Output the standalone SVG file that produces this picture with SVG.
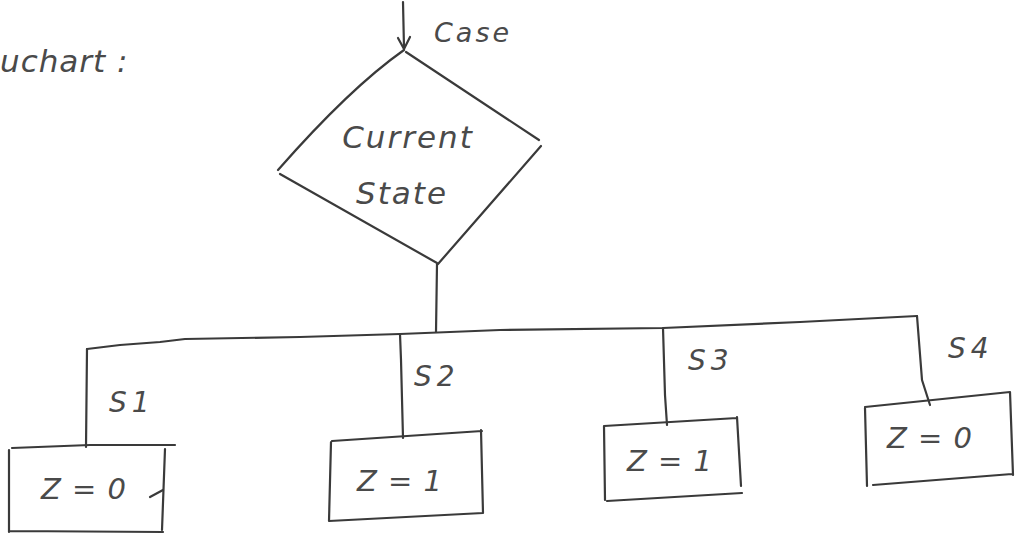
<svg xmlns="http://www.w3.org/2000/svg" width="1017" height="535" viewBox="0 0 1017 535">
<style>
.ln{fill:none;stroke:#3a3a3a;stroke-width:2.2;stroke-linecap:round;stroke-linejoin:round}
.t{font-family:"DejaVu Sans","Liberation Sans",sans-serif;font-style:oblique;fill:#4a4a4a}
.lb{font-size:28px;letter-spacing:5px}
.bx{font-size:29px;letter-spacing:1px}
</style>
<rect width="1017" height="535" fill="#ffffff"/>
<text class="t" x="0" y="72" font-size="31" letter-spacing="1">uchart :</text>
<g id="connectors">
<path class="ln" d="M403,2 L404,48"/>
<path class="ln" d="M398,38 L404,49 L410,37"/>
<path class="ln" d="M437,264 L436,332"/>
<path class="ln" d="M87,349 L120,345 L160,342 L185,339 L300,337 L400,334 L500,330 L663,328 L800,322 L917,316"/>
<path class="ln" d="M87,349 L86,447"/>
<path class="ln" d="M400,334 L401,360 L403,438"/>
<path class="ln" d="M663,328 L665,395 L667,425"/>
<path class="ln" d="M917,316 L922,380 L930,405"/>
</g>
<g id="node-case">
<text class="t" x="434" y="42" font-size="27" letter-spacing="3">Case</text>
</g>
<g id="node-current-state">
<path class="ln" d="M404,50 Q350,88 278,170 M280,174 Q365,222 437,263 M438,264 L541,146 M539,140 Q470,94 406,52"/>
<text class="t" x="408" y="148" text-anchor="middle" font-size="31" letter-spacing="2">Current</text>
<text class="t" x="402" y="204" text-anchor="middle" font-size="31" letter-spacing="2">State</text>
</g>
<g id="label-s1"><text class="t lb" x="109" y="412">S1</text></g>
<g id="label-s2"><text class="t lb" x="414" y="386">S2</text></g>
<g id="label-s3"><text class="t lb" x="688" y="370">S3</text></g>
<g id="label-s4"><text class="t lb" x="948" y="358">S4</text></g>
<g id="node-s1">
<path class="ln" d="M12,448 L90,445 L175,445 M9,450 L9,532 M9,531 L163,532 M165,449 L162,530"/>
<path class="ln" d="M150,497 L163,490"/>
<text class="t bx" x="84" y="499" text-anchor="middle">Z = 0</text>
</g>
<g id="node-s2">
<path class="ln" d="M332,441 L482,431 M331,442 L329,521 M329,521 L483,513 M481,430 L483,513"/>
<text class="t bx" x="400" y="491" text-anchor="middle">Z = 1</text>
</g>
<g id="node-s3">
<path class="ln" d="M604,426 L737,418 M604,426 L605,500 M607,501 L742,493 M737,417 L741,486"/>
<text class="t bx" x="670" y="471" text-anchor="middle">Z = 1</text>
</g>
<g id="node-s4">
<path class="ln" d="M865,407 L1010,392 M865,408 L867,486 M873,485 L1012,474 M1010,392 L1013,475"/>
<text class="t bx" x="930" y="448" text-anchor="middle">Z = 0</text>
</g>
</svg>
